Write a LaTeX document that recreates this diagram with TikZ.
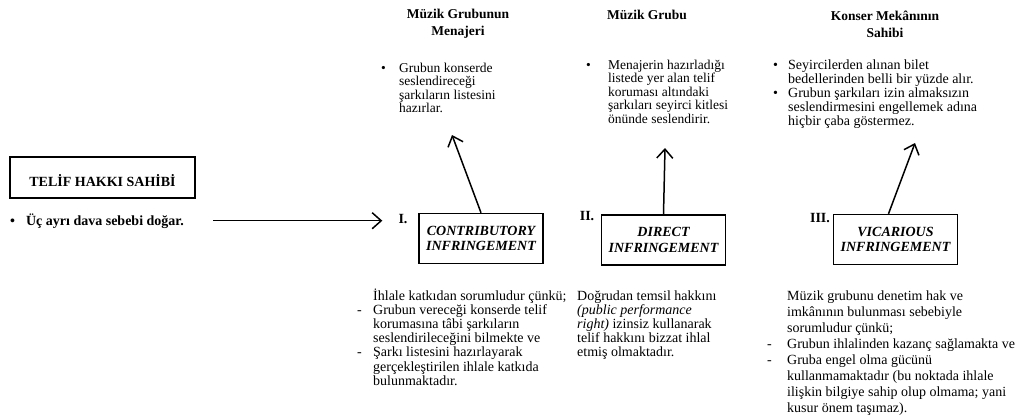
\documentclass[tikz,border=0pt]{standalone}
\usepackage{fontspec}
\setmainfont{Liberation Serif}
\usetikzlibrary{arrows.meta}

\begin{document}
\begin{tikzpicture}[
  x=1pt, y=-1pt,
  every node/.style={inner sep=0pt},
  frame/.style={
    draw,
    line width=1.5pt,
    minimum width=124pt,
    minimum height=50pt,
    align=center,
    font=\fontsize{14}{15.5}\selectfont\bfseries\itshape},
  head/.style={
    align=center,
    font=\fontsize{13.5}{17}\selectfont\bfseries},
  roman/.style={font=\fontsize{14}{15}\selectfont\bfseries},
  toplist/.style={anchor=base west, font=\fontsize{13.5}{13.6}\selectfont},
  botlist/.style={anchor=base west, font=\fontsize{14}{14.2}\selectfont},
  arr/.style={
    line width=1.5pt,
    -{Straight Barb[length=9pt, width=16pt]}}]

\useasboundingbox (0,0) rectangle (1035,416);

\node[
  draw,
  line width=1.6pt,
  minimum width=185pt,
  minimum height=41pt,
  text height=18pt,
  text depth=0pt,
  font=\fontsize{14}{15}\selectfont\bfseries] (telif) at (102.5,177.5) {TELİF HAKKI SAHİBİ};
\node[anchor=base west, font=\fontsize{14}{15}\selectfont\bfseries] (uc) at (10,225)
  {\textbullet\hspace{11pt}Üç ayrı dava sebebi doğar.};

\node[head] (headI) at (458,24) {Müzik Grubunun\\Menajeri};
\node[head] (headII) at (647,15) {Müzik Grubu};
\node[head] (headIII) at (885,24) {Konser Mekânının\\Sahibi};

\node[toplist] (listI) at (381,72) {\begin{tabular}[t]{@{}p{18pt}@{}l@{}}
\textbullet & Grubun konserde\\
 & seslendireceği\\
 & şarkıların listesini\\
 & hazırlar.
\end{tabular}};
\node[toplist] (listII) at (586,69) {\begin{tabular}[t]{@{}p{22pt}@{}l@{}}
\textbullet & Menajerin hazırladığı\\
 & listede yer alan telif\\
 & koruması altındaki\\
 & şarkıları seyirci kitlesi\\
 & önünde seslendirir.
\end{tabular}};
\node[toplist, font=\fontsize{14}{14}\selectfont] (listIII) at (773,69) {\begin{tabular}[t]{@{}p{15pt}@{}l@{}}
\textbullet & Seyircilerden alınan bilet\\
 & bedellerinden belli bir yüzde alır.\\
\textbullet & Grubun şarkıları izin almaksızın\\
 & seslendirmesini engellemek adına\\
 & hiçbir çaba göstermez.
\end{tabular}};

\node[roman] (romI) at (403,219) {I.};
\node[roman] (romII) at (587,216) {II.};
\node[roman] (romIII) at (820,218) {III.};

\node[frame] (boxI) at (481,238.5) {CONTRIBUTORY\\INFRINGEMENT};
\node[frame] (boxII) at (663.5,240) {DIRECT\\INFRINGEMENT};
\node[frame] (boxIII) at (895.5,239.5) {VICARIOUS\\INFRINGEMENT};

\coordinate (tipI) at (452,135);
\coordinate (tipII) at (665,148);
\coordinate (tipIII) at (915,143);

\draw[arr, shorten <=29pt, shorten >=16pt] (uc.east) -- (uc.east -| romI.west);
\draw[arr] (boxI.north) -- (tipI);
\draw[arr] (boxII.north) -- (tipII);
\draw[arr] ([xshift=-7pt]boxIII.north) -- (tipIII);

\node[botlist] (botI) at (357,300) {\begin{tabular}[t]{@{}p{16pt}@{}l@{}}
 & İhlale katkıdan sorumludur çünkü;\\
- & Grubun vereceği konserde telif\\
 & korumasına tâbi şarkıların\\
 & seslendirileceğini bilmekte ve\\
- & Şarkı listesini hazırlayarak\\
 & gerçekleştirilen ihlale katkıda\\
 & bulunmaktadır.
\end{tabular}};
\node[botlist] (botII) at (577,300) {\begin{tabular}[t]{@{}l@{}}
Doğrudan temsil hakkını\\
\textit{(public performance}\\
\textit{right)} izinsiz kullanarak\\
telif hakkını bizzat ihlal\\
etmiş olmaktadır.
\end{tabular}};
\node[botlist, font=\fontsize{14}{16}\selectfont] (botIII) at (767,300) {\begin{tabular}[t]{@{}p{20pt}@{}l@{}}
 & Müzik grubunu denetim hak ve\\
 & imkânının bulunması sebebiyle\\
 & sorumludur çünkü;\\
- & Grubun ihlalinden kazanç sağlamakta ve\\
- & Gruba engel olma gücünü\\
 & kullanmamaktadır (bu noktada ihlale\\
 & ilişkin bilgiye sahip olup olmama; yani\\
 & kusur önem taşımaz).
\end{tabular}};
\end{tikzpicture}
\end{document}
